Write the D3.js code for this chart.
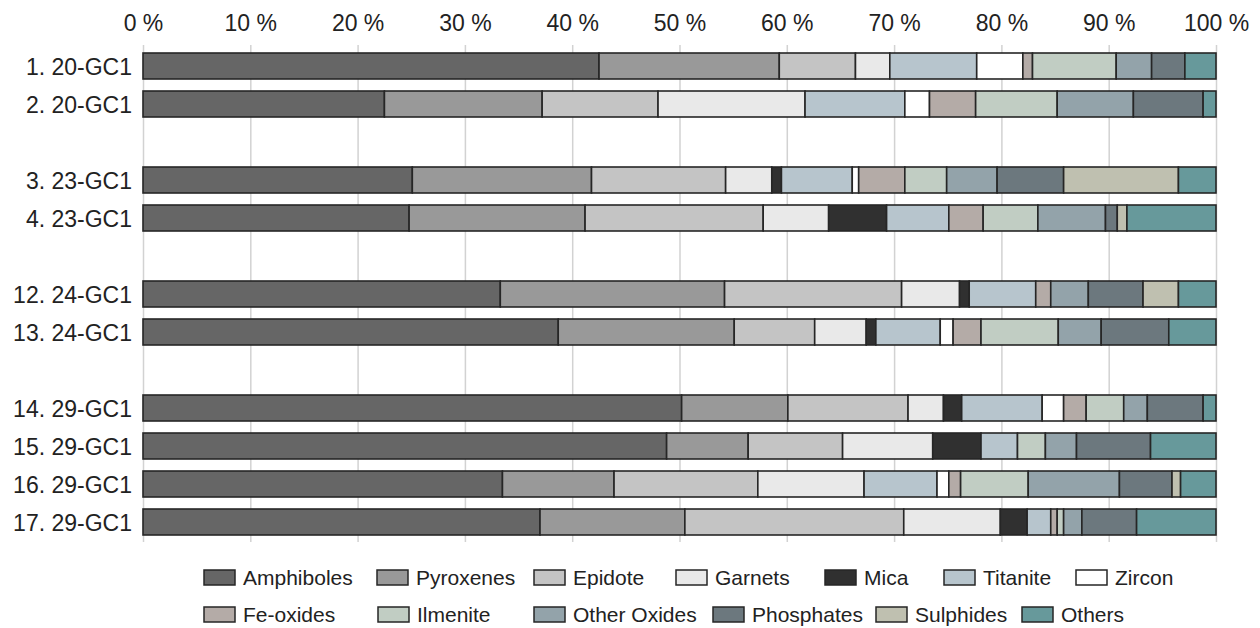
<!DOCTYPE html>
<html>
<head>
<meta charset="utf-8">
<script src="https://cdn.jsdelivr.net/npm/d3@7/dist/d3.min.js"></script>
<style>
  html, body { margin: 0; padding: 0; background: #fff; }
  svg { display: block; font-family: "Liberation Sans", Arial, sans-serif; }
</style>
</head>
<body>
<svg id="chart" width="1260" height="628"></svg>
<script>
// ---- data ----
const sampleGroups = [
  ["1. 20-GC1", "2. 20-GC1"],
  ["3. 23-GC1", "4. 23-GC1"],
  ["12. 24-GC1", "13. 24-GC1"],
  ["14. 29-GC1", "15. 29-GC1", "16. 29-GC1", "17. 29-GC1"]
];
const samples = sampleGroups.flat();

const minerals = ["Amphiboles","Pyroxenes","Epidote","Garnets","Mica","Titanite","Zircon",
                  "Fe-oxides","Ilmenite","Other Oxides","Phosphates","Sulphides","Others"];

// percentages per sample (same order as samples)
const amphiboles  = [42.5, 22.5, 25.1, 24.8, 33.3, 38.7, 50.2, 48.8, 33.5, 37.0];
const pyroxenes   = [16.8, 14.7, 16.7, 16.4, 20.9, 16.4,  9.9,  7.6, 10.4, 13.5];
const epidote     = [ 7.1, 10.8, 12.5, 16.6, 16.5,  7.5, 11.2,  8.8, 13.4, 20.4];
const garnets     = [ 3.2, 13.7,  4.3,  6.1,  5.4,  4.8,  3.3,  8.4,  9.9,  9.0];
const mica        = [ 0.0,  0.0,  0.9,  5.4,  0.9,  0.9,  1.7,  4.5,  0.0,  2.5];
const titanite    = [ 8.1,  9.3,  6.6,  5.8,  6.2,  6.0,  7.5,  3.4,  6.8,  2.2];
const zircon      = [ 4.3,  2.3,  0.6,  0.0,  0.0,  1.2,  2.0,  0.0,  1.1,  0.0];
const feOxides    = [ 0.9,  4.3,  4.3,  3.2,  1.4,  2.6,  2.1,  0.0,  1.1,  0.6];
const ilmenite    = [ 7.8,  7.6,  3.9,  5.1,  0.0,  7.2,  3.5,  2.6,  6.3,  0.6];
const otherOxides = [ 3.3,  7.1,  4.7,  6.3,  3.5,  4.0,  2.2,  2.9,  8.5,  1.7];
const phosphates  = [ 3.1,  6.5,  6.2,  1.1,  5.1,  6.3,  5.2,  6.9,  4.9,  5.1];
const sulphides   = [ 0.0,  0.0, 10.7,  0.9,  3.3,  0.0,  0.0,  0.0,  0.8,  0.0];
const others      = [ 2.9,  1.2,  3.5,  8.3,  3.5,  4.4,  1.2,  6.1,  3.3,  7.4];

const seriesValues = [amphiboles, pyroxenes, epidote, garnets, mica, titanite, zircon,
                      feOxides, ilmenite, otherOxides, phosphates, sulphides, others];

const tickValues = [0, 10, 20, 30, 40, 50, 60, 70, 80, 90, 100];

// ---- styles ----
const colors = ["#666666","#999999","#c4c4c4","#e9e9e9","#303030","#b7c5cd","#ffffff",
                "#b4aba7","#c1cdc3","#93a3aa","#6c787e","#bfc0b0","#67999b"];
const legendRows = [
  { items: [0,1,2,3,4,5,6], xs: [204,377,534,676,825,944,1076], y: 570 },
  { items: [7,8,9,10,11,12], xs: [204,378,534,713,876,1022], y: 607 }
];

// ---- build table ----
const table = samples.map((s, i) => {
  const row = { sample: s };
  minerals.forEach((m, j) => { row[m] = seriesValues[j][i]; });
  return row;
});

// slots, with blank slots between groups
const slots = [];
sampleGroups.forEach((g, gi) => {
  if (gi > 0) slots.push("__gap" + gi);
  g.forEach(s => slots.push(s));
});

const svg = d3.select("#chart");
const x = d3.scaleLinear().domain([0, 100]).range([143, 1216]);
const y = d3.scaleBand().domain(slots).range([47, 47 + 38 * slots.length])
  .paddingInner(0.316).paddingOuter(0.158);
const color = d3.scaleOrdinal().domain(minerals).range(colors);

// axis + grid
const gridTop = 45, gridBottom = 542;
const axis = d3.axisTop(x).tickValues(tickValues).tickFormat(d => d + " %")
  .tickSize(-(gridBottom - gridTop)).tickPadding(14);
const ag = svg.append("g").attr("transform", `translate(0,${gridTop})`).call(axis);
ag.select(".domain").remove();
ag.selectAll(".tick line").attr("stroke", "#d2d2d2").attr("stroke-width", 1.5);
ag.selectAll(".tick text").attr("fill", "#222").style("font-size", "23px")
  .style("font-family", "'Liberation Sans', Arial, sans-serif");

// bars
const stack = d3.stack().keys(minerals);
const stacked = stack(table);
const layer = svg.append("g").selectAll("g").data(stacked).join("g")
  .attr("fill", d => color(d.key));
layer.selectAll("rect")
  .data(d => d.filter(p => p[1] - p[0] > 0))
  .join("rect")
  .attr("x", d => x(d[0]))
  .attr("width", d => x(d[1]) - x(d[0]))
  .attr("y", d => y(d.data.sample))
  .attr("height", y.bandwidth())
  .attr("stroke", "#262626")
  .attr("stroke-width", 1.6);

// y labels
svg.append("g").selectAll("text").data(samples).join("text")
  .attr("x", 132)
  .attr("y", d => y(d) + y.bandwidth() / 2 + 8.5)
  .attr("text-anchor", "end")
  .attr("fill", "#222")
  .style("font-size", "23px")
  .text(d => d);

// legend
const lg = svg.append("g");
legendRows.forEach(r => {
  r.items.forEach((idx, k) => {
    const g = lg.append("g").attr("transform", `translate(${r.xs[k]},${r.y})`);
    g.append("rect").attr("width", 31).attr("height", 15)
      .attr("fill", colors[idx]).attr("stroke", "#262626").attr("stroke-width", 1.5);
    g.append("text").attr("x", 39).attr("y", 15)
      .attr("fill", "#222").style("font-size", "21px").text(minerals[idx]);
  });
});
</script>
</body>
</html>
